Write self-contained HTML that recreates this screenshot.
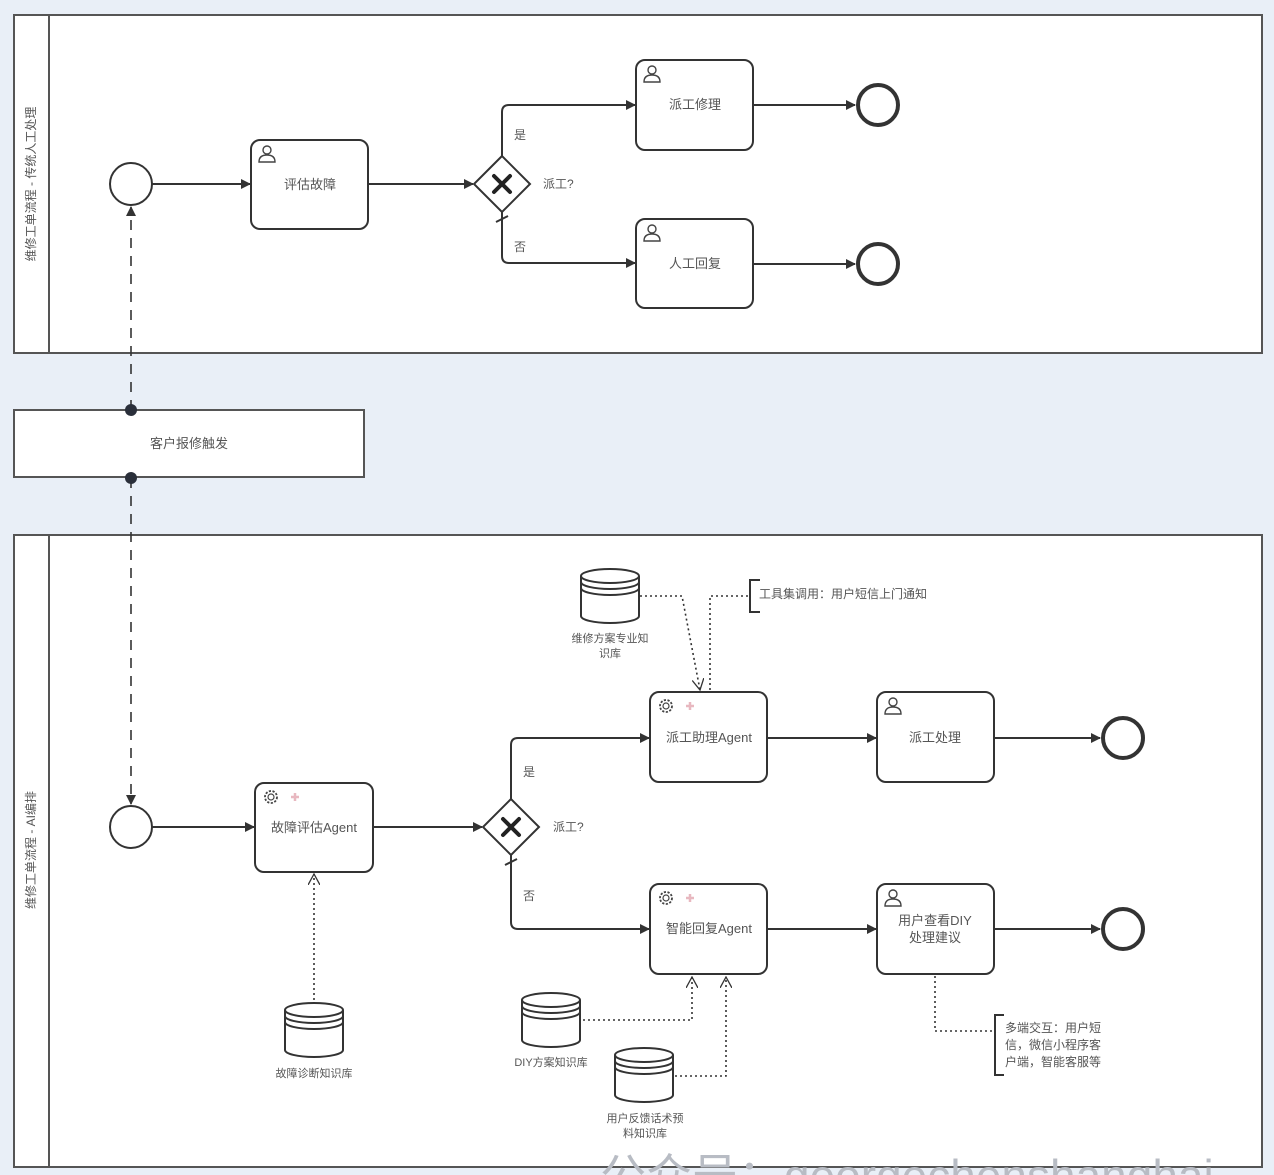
<!DOCTYPE html>
<html><head><meta charset="utf-8"><style>
html,body{margin:0;padding:0;background:#e9eff7;}
svg{display:block}
text{font-family:"Liberation Sans","Noto Sans CJK SC",sans-serif;fill:#555;}
</style></head><body>
<svg width="1274" height="1175" viewBox="0 0 1274 1175" xmlns="http://www.w3.org/2000/svg">
<defs>
<marker id="a" markerWidth="10" markerHeight="10" refX="9" refY="5" orient="auto" markerUnits="userSpaceOnUse"><path d="M0,0 L10,5 L0,10 z" fill="#333"/></marker>
<marker id="o" markerWidth="12" markerHeight="12" refX="11" refY="6" orient="auto" markerUnits="userSpaceOnUse"><path d="M0,0 L11,6 L0,12" fill="none" stroke="#333" stroke-width="1.3"/></marker>
<g id="user"><circle cx="0" cy="-4" r="4" fill="none" stroke="#444" stroke-width="1.4"/><path d="M-8,8 Q-8,1 0,1 Q8,1 8,8 Z" fill="none" stroke="#444" stroke-width="1.4"/></g>
<g id="gear"><circle r="6" fill="none" stroke="#444" stroke-width="1.8" stroke-dasharray="2.2 1.5"/><circle r="3" fill="none" stroke="#444" stroke-width="1.2"/><path d="M10,0 L18,0 M14,-4 L14,4" stroke="#e8b8c0" stroke-width="2.5" transform="translate(10,0)"/></g>
<g id="db"><path d="M0,8 L0,48 A29,7 0 0 0 58,48 L58,8" fill="#fff" stroke="#333" stroke-width="2"/><ellipse cx="29" cy="8" rx="29" ry="7" fill="#fff" stroke="#333" stroke-width="2"/><path d="M0,14 A29,7 0 0 0 58,14 M0,20 A29,7 0 0 0 58,20" fill="none" stroke="#333" stroke-width="2"/></g>
</defs>

<rect x="14" y="15" width="1248" height="338" fill="#fff" stroke="#555" stroke-width="2"/>
<line x1="49" y1="15" x2="49" y2="353" stroke="#555" stroke-width="2"/>
<text x="31" y="184" font-size="12" text-anchor="middle" transform="rotate(-90 31 184)" dy="4">维修工单流程 - 传统人工处理</text>

<rect x="14" y="410" width="350" height="67" fill="#fff" stroke="#555" stroke-width="2"/>
<text x="189" y="448" font-size="13" text-anchor="middle">客户报修触发</text>

<rect x="14" y="535" width="1248" height="632" fill="#fff" stroke="#555" stroke-width="2"/>
<line x1="49" y1="535" x2="49" y2="1167" stroke="#555" stroke-width="2"/>
<text x="31" y="850" font-size="12" text-anchor="middle" transform="rotate(-90 31 850)" dy="4">维修工单流程 - AI编排</text>

<g stroke="#333" stroke-width="2" fill="none">
<circle cx="131" cy="184" r="21" fill="#fff"/>
<line x1="152" y1="184" x2="250" y2="184" marker-end="url(#a)"/>
<rect x="251" y="140" width="117" height="89" rx="9" fill="#fff"/>
<line x1="368" y1="184" x2="473" y2="184" marker-end="url(#a)"/>
<path d="M502,156 L474,184 L502,212 L530,184 Z" fill="#fff"/>
<path d="M502,156 L502,112 Q502,105 509,105 L635,105" marker-end="url(#a)"/>
<path d="M502,212 L502,256 Q502,263 509,263 L635,263" marker-end="url(#a)"/>
<line x1="496" y1="222" x2="508" y2="216"/>
<rect x="636" y="60" width="117" height="90" rx="9" fill="#fff"/>
<rect x="636" y="219" width="117" height="89" rx="9" fill="#fff"/>
<line x1="753" y1="105" x2="855" y2="105" marker-end="url(#a)"/>
<line x1="753" y1="264" x2="855" y2="264" marker-end="url(#a)"/>
<circle cx="878" cy="105" r="20" stroke-width="4" fill="#fff"/>
<circle cx="878" cy="264" r="20" stroke-width="4" fill="#fff"/>

<line x1="131" y1="410" x2="131" y2="207" stroke-dasharray="10 8" stroke-width="1.6" marker-end="url(#a)"/>
<line x1="131" y1="478" x2="131" y2="804" stroke-dasharray="10 8" stroke-width="1.6" marker-end="url(#a)"/>

<circle cx="131" cy="827" r="21" fill="#fff"/>
<line x1="152" y1="827" x2="254" y2="827" marker-end="url(#a)"/>
<rect x="255" y="783" width="118" height="89" rx="9" fill="#fff"/>
<line x1="373" y1="827" x2="482" y2="827" marker-end="url(#a)"/>
<path d="M511,799 L483,827 L511,855 L539,827 Z" fill="#fff"/>
<path d="M511,799 L511,745 Q511,738 518,738 L649,738" marker-end="url(#a)"/>
<path d="M511,855 L511,922 Q511,929 518,929 L649,929" marker-end="url(#a)"/>
<line x1="505" y1="865" x2="517" y2="859"/>
<rect x="650" y="692" width="117" height="90" rx="9" fill="#fff"/>
<rect x="877" y="692" width="117" height="90" rx="9" fill="#fff"/>
<rect x="650" y="884" width="117" height="90" rx="9" fill="#fff"/>
<rect x="877" y="884" width="117" height="90" rx="9" fill="#fff"/>
<line x1="767" y1="738" x2="876" y2="738" marker-end="url(#a)"/>
<line x1="994" y1="738" x2="1100" y2="738" marker-end="url(#a)"/>
<line x1="767" y1="929" x2="876" y2="929" marker-end="url(#a)"/>
<line x1="994" y1="929" x2="1100" y2="929" marker-end="url(#a)"/>
<circle cx="1123" cy="738" r="20" stroke-width="4" fill="#fff"/>
<circle cx="1123" cy="929" r="20" stroke-width="4" fill="#fff"/>

<g stroke-dasharray="2 3" stroke-width="1.6">
<line x1="314" y1="1000" x2="314" y2="874" marker-end="url(#o)"/>
<path d="M640,596 L682,596 L700,690" marker-end="url(#o)"/>
<path d="M748,596 L710,596 L710,690"/>
<path d="M583,1020 L692,1020 L692,977" marker-end="url(#o)"/>
<path d="M675,1076 L726,1076 L726,977" marker-end="url(#o)"/>
<path d="M935,976 L935,1031 L995,1031"/>
</g>
<path d="M760,580 L750,580 L750,612 L760,612"/>
<path d="M1004,1015 L995,1015 L995,1075 L1004,1075"/>
</g>
<circle cx="131" cy="410" r="6" fill="#2a2f3a"/>
<circle cx="131" cy="478" r="6" fill="#2a2f3a"/>

<g stroke="#222" stroke-width="4" stroke-linecap="round">
<path d="M494,176 L510,192 M510,176 L494,192"/>
<path d="M503,819 L519,835 M519,819 L503,835"/>
</g>

<use href="#user" x="267" y="154"/>
<use href="#user" x="652" y="74"/>
<use href="#user" x="652" y="233"/>
<use href="#user" x="893" y="706"/>
<use href="#user" x="893" y="898"/>
<use href="#gear" x="271" y="797"/>
<use href="#gear" x="666" y="706"/>
<use href="#gear" x="666" y="898"/>

<use href="#db" x="285" y="1002"/>
<use href="#db" x="581" y="568"/>
<use href="#db" x="522" y="992"/>
<use href="#db" x="615" y="1047"/>

<g font-size="13" text-anchor="middle">
<text x="310" y="189">评估故障</text>
<text x="695" y="109">派工修理</text>
<text x="695" y="268">人工回复</text>
<text x="314" y="832">故障评估Agent</text>
<text x="709" y="742">派工助理Agent</text>
<text x="935" y="742">派工处理</text>
<text x="709" y="933">智能回复Agent</text>
<text x="935" y="925">用户查看DIY</text>
<text x="935" y="942">处理建议</text>
</g>
<g font-size="12">
<text x="514" y="139">是</text>
<text x="514" y="251">否</text>
<text x="543" y="188">派工?</text>
<text x="523" y="776">是</text>
<text x="523" y="900">否</text>
<text x="553" y="831">派工?</text>
<text x="759" y="598">工具集调用：用户短信上门通知</text>
<text x="1005" y="1032">多端交互：用户短</text>
<text x="1005" y="1049">信，微信小程序客</text>
<text x="1005" y="1066">户端，智能客服等</text>
</g>
<g font-size="11" text-anchor="middle">
<text x="314" y="1077">故障诊断知识库</text>
<text x="610" y="642">维修方案专业知</text>
<text x="610" y="657">识库</text>
<text x="551" y="1066">DIY方案知识库</text>
<text x="645" y="1122">用户反馈话术预</text>
<text x="645" y="1137">料知识库</text>
</g>
<text x="600" y="1192" font-size="46" style="fill:#b8bcc4">公众号：georgechenshanghai</text>
</svg>
</body></html>
